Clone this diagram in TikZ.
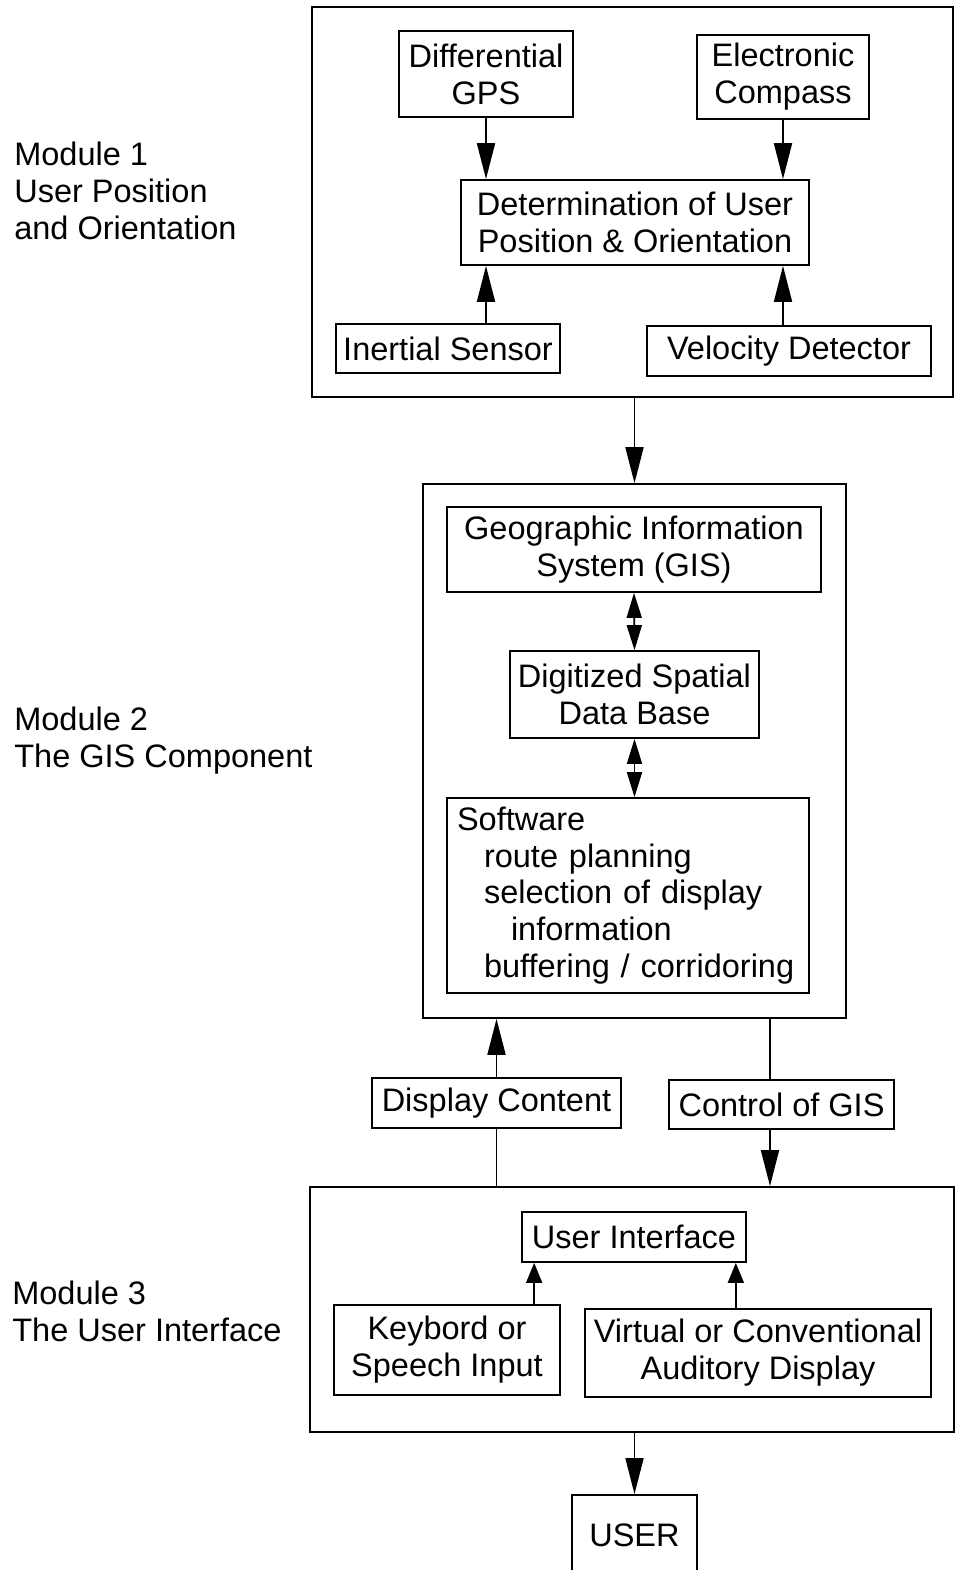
\documentclass[tikz,border=0pt]{standalone}
\usepackage{fontspec}
\setmainfont{Liberation Sans}
\usetikzlibrary{arrows.meta, positioning, calc}

\tikzset{
  blk/.style={draw, line width=1pt, align=center, inner sep=0pt},
  frame/.style={draw, line width=1pt, inner sep=0pt},
  arr/.style={line width=1pt, -{Triangle[length=0.72cm,width=0.36cm]}},
  arrsm/.style={line width=1pt, -{Triangle[length=0.4cm,width=0.32cm]}},
  darr/.style={line width=1pt, {Triangle[length=0.5cm,width=0.3cm]}-{Triangle[length=0.5cm,width=0.3cm]}},
  modlbl/.style={anchor=west, align=left, inner sep=0pt}
}

\begin{document}
\begin{tikzpicture}[x=0.02cm, y=-0.02cm, font=\fontsize{18.5}{21}\selectfont]
  \useasboundingbox (0,0) rectangle (955,1570);

  % Module 1: position and orientation
  \node[frame, minimum width=12.82cm, minimum height=7.8cm] (m1) at (632.5,202) {};
  \node[blk, minimum width=3.48cm, minimum height=1.72cm] (gps) at (486,74) {Differential\\GPS};
  \node[blk, minimum width=3.44cm, minimum height=1.68cm] (compass) at (783,77) {Electronic\\Compass};
  \node[blk, minimum width=6.96cm, minimum height=1.7cm] (det) at (635,222.5) {Determination of User\\Position \& Orientation};
  \node[blk, minimum width=4.48cm, minimum height=0.98cm] (inertial) at (448,348.5) {Inertial Sensor};
  \node[blk, minimum width=5.68cm, minimum height=1.0cm] (vel) at (789,351) {Velocity Detector};
  \draw[arr] (gps.south) -- (gps.south |- det.north);
  \draw[arr] (compass.south) -- (compass.south |- det.north);
  \draw[arr] (inertial.north -| gps) -- (det.south -| gps);
  \draw[arr] (vel.north -| compass) -- (det.south -| compass);

  % Module 2: GIS
  \node[frame, minimum width=8.46cm, minimum height=10.68cm] (m2) at (634.5,751) {};
  \node[blk, minimum width=7.48cm, minimum height=1.7cm] (gis) at (634,549.5) {Geographic Information\\System (GIS)};
  \node[blk, minimum width=4.98cm, minimum height=1.74cm] (db) at (634.5,694.5) {Digitized Spatial\\Data Base};
  \node[blk, minimum width=7.24cm, minimum height=3.9cm, align=left, inner xsep=0.2cm,
        text width=6.84cm] (sw) at (628,895.5)
    {Software\\
     \hspace*{0.54cm}route planning\\
     \hspace*{0.54cm}selection of display\\
     \hspace*{1.08cm}information\\
     \hspace*{0.54cm}buffering / corridoring};
  \draw[arr] (m1.south -| m2) -- (m2.north);
  \draw[darr] (gis.south) -- (db.north);
  \draw[darr] (db.south) -- (db.south |- sw.north);

  % between modules 2 and 3
  \node[blk, minimum width=4.98cm, minimum height=1.0cm] (disp) at (496.5,1103) {Display Content};
  \node[blk, minimum width=4.5cm, minimum height=0.98cm] (ctrl) at (781.5,1104.5) {Control of GIS};

  % Module 3: user interface
  \node[frame, minimum width=12.88cm, minimum height=4.9cm] (m3) at (632,1309.5) {};
  \node[blk, minimum width=4.48cm, minimum height=1.0cm] (ui) at (634,1237) {User Interface};
  \node[blk, minimum width=4.52cm, minimum height=1.8cm] (kbd) at (447,1350) {Keybord or\\Speech Input};
  \node[blk, minimum width=6.92cm, minimum height=1.76cm] (aud) at (758,1353) {Virtual or Conventional\\Auditory Display};
  \node[blk, minimum width=2.5cm, minimum height=1.6cm] (user) at (634.5,1535) {USER};

  \coordinate (ct) at ($(ctrl.north)+(-11.5,0)$);
  \coordinate (cb) at ($(ctrl.south)+(-11.5,0)$);
  \coordinate (ka) at ($(ui.south west)+(13,0)$);
  \coordinate (va) at ($(ui.south east)+(-11,0)$);
  \draw[arr] (disp.north) -- (disp.north |- m2.south);
  \draw[line width=1pt] (disp.south) -- (disp.south |- m3.north);
  \draw[line width=1pt] (ct |- m2.south) -- (ct);
  \draw[arr] (cb) -- (cb |- m3.north);
  \draw[arrsm] (ka |- kbd.north) -- (ka);
  \draw[arrsm] (va |- aud.north) -- (va);
  \draw[arr] (m3.south -| user) -- (user.north);

  % module captions
  \node[modlbl] (lbl1) at (14,191) {Module 1\\User Position\\and Orientation};
  \node[modlbl] (lbl2) at (14,741) {Module 2\\The GIS Component};
  \node[modlbl] (lbl3) at (12,1311) {Module 3\\The User Interface};
\end{tikzpicture}
\end{document}
